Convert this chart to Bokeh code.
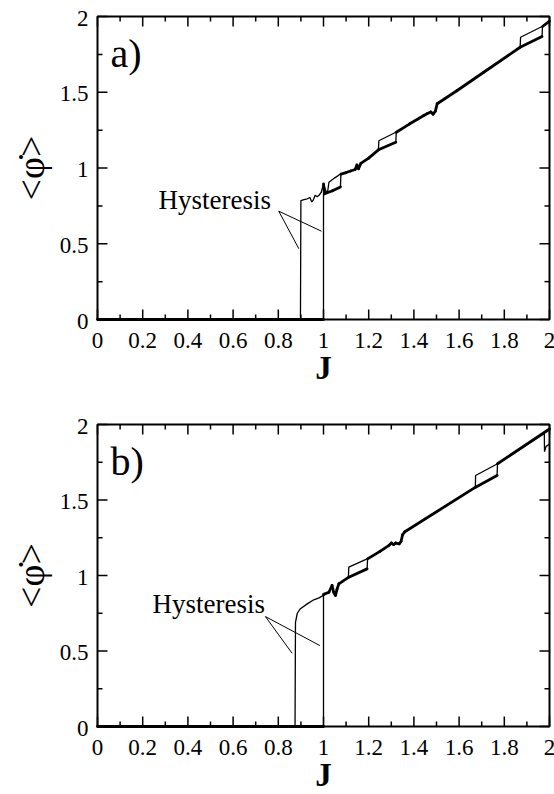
import math
from bokeh.plotting import figure
from bokeh.layouts import column
from bokeh.models import Range1d
from bokeh.core.properties import value
from bokeh.embed import file_html
from bokeh.resources import INLINE

FONT = "Liberation Serif"

# ---------------- Panel a) ----------------
# increasing-J sweep
J_a_up = [0.0, 1.0, 1.0, 1.005, 1.04, 1.075, 1.077, 1.10, 1.12, 1.14, 1.148, 1.155,
          1.165, 1.20, 1.243, 1.32, 1.322, 1.38, 1.444, 1.46, 1.475, 1.485, 1.495,
          1.503, 1.59, 1.709, 1.87, 1.967, 1.969, 2.0]
phi_a_up = [0.0, 0.0, 0.895, 0.83, 0.85, 0.875, 0.96, 0.97, 0.98, 0.99, 1.02, 0.995,
            1.03, 1.065, 1.12, 1.17, 1.236, 1.29, 1.347, 1.36, 1.37, 1.355, 1.375,
            1.424, 1.51, 1.632, 1.797, 1.868, 1.934, 1.97]
# decreasing-J sweep
J_a_dn = [2.0, 1.967, 1.872, 1.870, 1.709, 1.59, 1.503, 1.495, 1.485, 1.475, 1.46,
          1.444, 1.38, 1.32, 1.245, 1.243, 1.20, 1.165, 1.155, 1.148, 1.14, 1.12,
          1.10, 1.075, 1.05, 1.024, 1.018, 1.01, 1.0, 0.99, 0.98, 0.972, 0.963,
          0.955, 0.948, 0.94, 0.928, 0.91, 0.9, 0.898, 0.0]
phi_a_dn = [1.97, 1.934, 1.863, 1.797, 1.632, 1.51, 1.424, 1.375, 1.355, 1.37, 1.36,
            1.347, 1.29, 1.236, 1.18, 1.12, 1.065, 1.03, 0.995, 1.02, 0.99, 0.98,
            0.97, 0.96, 0.935, 0.906, 0.84, 0.85, 0.895, 0.84, 0.82, 0.81, 0.82,
            0.79, 0.776, 0.805, 0.797, 0.79, 0.785, 0.0, 0.0]

# ---------------- Panel b) ----------------
J_b_up = [0.0, 1.0, 1.0, 1.024, 1.038, 1.045, 1.053, 1.06, 1.068, 1.112, 1.193,
          1.195, 1.25, 1.29, 1.30, 1.31, 1.32, 1.335, 1.343, 1.35, 1.36, 1.673,
          1.768, 1.77, 2.0]
phi_b_up = [0.0, 0.0, 0.875, 0.889, 0.934, 0.889, 0.868, 0.91, 0.945, 0.989, 1.044,
            1.11, 1.16, 1.20, 1.215, 1.205, 1.215, 1.21, 1.225, 1.27, 1.29, 1.585,
            1.662, 1.74, 1.97]
J_b_dn = [2.0, 1.985, 1.978, 1.977, 1.77, 1.673, 1.672, 1.36, 1.35, 1.343, 1.335,
          1.32, 1.31, 1.30, 1.29, 1.25, 1.193, 1.112, 1.11, 1.068, 1.06, 1.053,
          1.045, 1.038, 1.024, 1.0, 0.98, 0.957, 0.928, 0.898, 0.884, 0.876, 0.874, 0.0]
phi_b_dn = [1.87, 1.855, 1.82, 1.94, 1.74, 1.662, 1.585, 1.29, 1.27, 1.225, 1.21,
            1.215, 1.205, 1.215, 1.20, 1.16, 1.11, 1.055, 0.989, 0.945, 0.91, 0.868,
            0.889, 0.934, 0.889, 0.868, 0.852, 0.839, 0.812, 0.78, 0.75, 0.69, 0.0, 0.0]

# ---------------- axes: ticks and labels ----------------
X_TICKS = [0.0, 0.2, 0.4, 0.6, 0.8, 1.0, 1.2, 1.4, 1.6, 1.8, 2.0]
X_TICK_LABELS = ["0", "0.2", "0.4", "0.6", "0.8", "1", "1.2", "1.4", "1.6", "1.8", "2"]
X_MINOR = [0.1, 0.3, 0.5, 0.7, 0.9, 1.1, 1.3, 1.5, 1.7, 1.9]
Y_TICKS = [0.0, 0.5, 1.0, 1.5, 2.0]
Y_TICK_LABELS = ["0", "0.5", "1", "1.5", "2"]
Y_MINOR = [0.25, 0.75, 1.25, 1.75]
X_LABEL = "J"
Y_LABEL = "<\u03c6\u0307>"
X_MIN, X_MAX = 0.0, 2.0
Y_MIN, Y_MAX = 0.0, 2.0

# frame geometry in pixels (layout only)
W = 554
LEFT, RIGHT_PAD, TOP = 97, 5, 16


def split_segments(xs, ys):
    """Split a sweep into dense (sloped) parts and jump (near-vertical) parts."""
    thick = ([], [], [], [])
    thin = ([], [], [], [])
    for i in range(len(xs) - 1):
        tgt = thick if abs(xs[i + 1] - xs[i]) > 0.004 else thin
        tgt[0].append(xs[i]); tgt[1].append(ys[i])
        tgt[2].append(xs[i + 1]); tgt[3].append(ys[i + 1])
    return thick, thin


def make_panel(j_up, phi_up, j_dn, phi_dn, tag, hyst_px, hyst_x0, hyst_y0,
               hyst_x1, hyst_y1, height, frame_h):
    sx = (W - LEFT - RIGHT_PAD) / (X_MAX - X_MIN)       # px per unit J
    sy = frame_h / (Y_MAX - Y_MIN)                      # px per unit phi
    bottom_px = height - TOP - frame_h
    xr = Range1d(X_MIN - LEFT / sx, X_MAX + RIGHT_PAD / sx)
    yr = Range1d(Y_MIN - bottom_px / sy, Y_MAX + TOP / sy)
    p = figure(width=W, height=height, x_range=xr, y_range=yr,
               output_backend="svg", toolbar_location=None,
               x_axis_type=None, y_axis_type=None,
               min_border=0, min_border_left=0, min_border_right=0,
               min_border_top=0, min_border_bottom=0)
    p.xgrid.visible = False
    p.ygrid.visible = False
    p.outline_line_color = None
    p.background_fill_color = "white"
    p.border_fill_color = "white"

    def dy(px):          # pixel distance below the top edge of the frame -> data y
        return Y_MAX - px / sy

    # data: decreasing sweep thin, increasing sweep thick except its jumps
    p.line(j_dn, phi_dn, line_color="black", line_width=1.3)
    thick, thin = split_segments(j_up, phi_up)
    p.segment(x0=thin[0], y0=thin[1], x1=thin[2], y1=thin[3],
              line_color="black", line_width=1.3)
    p.segment(x0=thick[0], y0=thick[1], x1=thick[2], y1=thick[3],
              line_color="black", line_width=2.8, line_cap="round")

    # frame box
    p.quad(left=[X_MIN], right=[X_MAX], bottom=[Y_MIN], top=[Y_MAX],
           fill_color=None, line_color="black", line_width=2)

    # inward ticks on all four sides
    maj_x, min_x = 10 / sy, 5 / sy
    maj_y, min_y = 10 / sx, 5 / sx
    tx0, ty0, tx1, ty1 = [], [], [], []
    for ticks, ln in ((X_TICKS, maj_x), (X_MINOR, min_x)):
        for t in ticks:
            tx0 += [t, t]; tx1 += [t, t]
            ty0 += [Y_MIN, Y_MAX]; ty1 += [Y_MIN + ln, Y_MAX - ln]
    for ticks, ln in ((Y_TICKS, maj_y), (Y_MINOR, min_y)):
        for t in ticks:
            ty0 += [t, t]; ty1 += [t, t]
            tx0 += [X_MIN, X_MAX]; tx1 += [X_MIN + ln, X_MAX - ln]
    p.segment(x0=tx0, y0=ty0, x1=tx1, y1=ty1, line_color="black", line_width=1.5)

    # tick labels
    p.text(x=X_TICKS, y=[Y_MIN - 20.5 / sy] * len(X_TICKS), text=X_TICK_LABELS,
           text_font=value(FONT), text_font_size="23px", text_align="center",
           text_baseline="middle", text_color="black")
    p.text(x=[X_MIN - 9 / sx] * len(Y_TICKS), y=[t - 1.5 / sy for t in Y_TICKS],
           text=Y_TICK_LABELS, text_font=value(FONT), text_font_size="23px",
           text_align="right", text_baseline="middle", text_color="black")
    # axis titles
    p.text(x=[(X_MIN + X_MAX) / 2], y=[Y_MIN - 48 / sy], text=[X_LABEL],
           text_font=value(FONT), text_font_size="33px", text_font_style="bold",
           text_align="center", text_baseline="middle", text_color="black")
    p.text(x=[X_MIN - 67 / sx], y=[(Y_MIN + Y_MAX) / 2], text=[Y_LABEL],
           text_font=value(FONT), text_font_size="38px", angle=math.pi / 2,
           text_align="center", text_baseline="middle", text_color="black")

    # annotations
    p.segment(x0=hyst_x0, y0=hyst_y0, x1=hyst_x1, y1=hyst_y1,
              line_color="black", line_width=1)
    p.text(x=[(hyst_px[0] - LEFT) / sx], y=[dy(hyst_px[1])], text=["Hysteresis"],
           text_font=value(FONT), text_font_size="27px",
           text_baseline="middle", text_color="black")
    p.text(x=[13 / sx], y=[dy(37)], text=[tag], text_font=value(FONT),
           text_font_size="40px", text_baseline="middle", text_color="black")
    return p


pa = make_panel(J_a_up, phi_a_up, J_a_dn, phi_a_dn, "a)", (158, 183),
                [0.802, 0.802], [0.715, 0.715], [0.891, 0.991], [0.467, 0.583],
                height=408, frame_h=303)
pb = make_panel(J_b_up, phi_b_up, J_b_dn, phi_b_dn, "b)", (152, 179),
                [0.743, 0.743], [0.728, 0.728], [0.861, 0.984], [0.485, 0.536],
                height=386, frame_h=302)

layout = column(pa, pb, spacing=0)
open("out.html", "w").write(file_html(layout, INLINE))
